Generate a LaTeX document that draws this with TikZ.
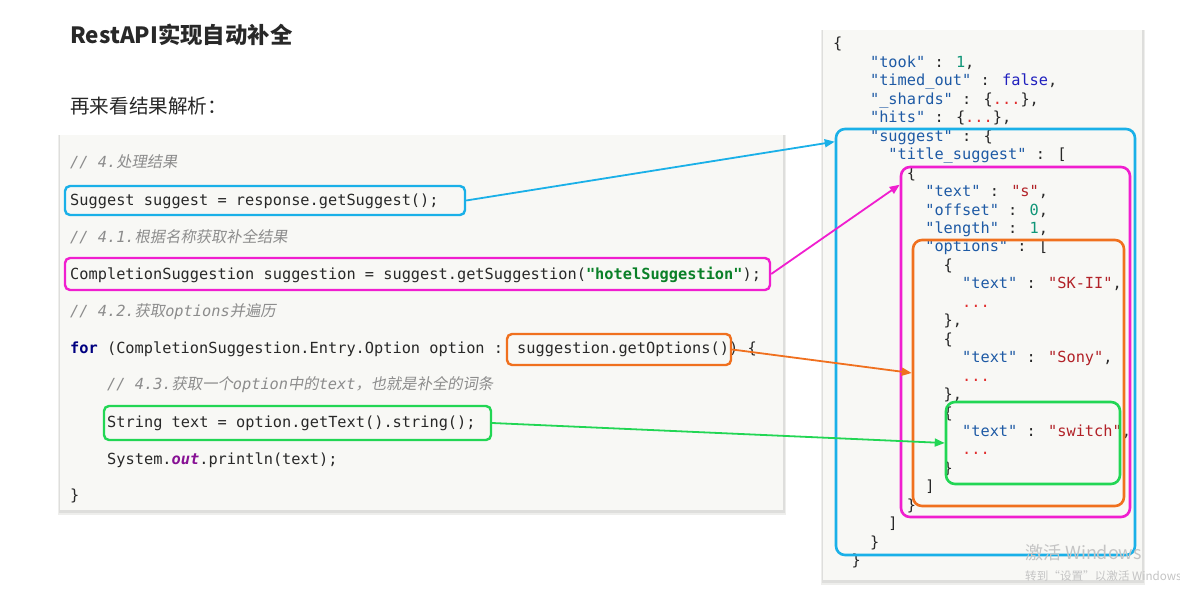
\documentclass[tikz,border=0pt]{standalone}
\usepackage{fontspec}
\usetikzlibrary{arrows.meta,calc}
\newfontfamily\cjk{Noto Sans CJK SC}
\newfontfamily\cjkit[FakeSlant=0.18]{Noto Sans CJK SC}
\newfontfamily\mono{DejaVu Sans Mono}
\definecolor{cyanc}{RGB}{26,176,232}
\definecolor{magc}{RGB}{240,30,207}
\definecolor{orgc}{RGB}{240,112,30}
\definecolor{grnc}{RGB}{34,214,84}
\definecolor{panelc}{RGB}{248,248,245}
\definecolor{shadowc}{RGB}{222,222,220}
\definecolor{shadowd}{RGB}{238,238,236}
\definecolor{codetxt}{RGB}{40,40,40}
\definecolor{cmtc}{RGB}{140,140,140}
\definecolor{kwc}{RGB}{0,0,128}
\definecolor{strgc}{RGB}{10,128,40}
\definecolor{outc}{RGB}{135,16,148}
\definecolor{jkeyc}{RGB}{30,90,165}
\definecolor{jstrc}{RGB}{178,34,40}
\definecolor{jnumc}{RGB}{16,150,120}
\definecolor{jboolc}{RGB}{32,32,190}
\definecolor{jdotc}{RGB}{225,45,45}
\definecolor{jpunc}{RGB}{40,40,40}
\definecolor{wmc}{RGB}{196,196,196}
\newcommand\zhc[1]{{\upshape\cjkit #1}}
\newcommand\jcmt[1]{\textcolor{cmtc}{\itshape #1}}
\newcommand\jkey[1]{\textcolor{jkeyc}{"#1"}}
\newcommand\jstr[1]{\textcolor{jstrc}{"#1"}}
\newcommand\jnum[1]{\textcolor{jnumc}{#1}}
\newcommand\jdots{\textcolor{jdotc}{...}}
\newcommand\jsonline[3]{\node[jline] (jl#1) at ({833+#2*9.21},{45+18.45*#1}) {#3};}
\begin{document}
\begin{tikzpicture}[x=1pt,y=-1pt,
  code/.style={anchor=west, inner sep=0pt, text height=11pt, text depth=3pt,
    font=\mono\fontsize{15.3}{18}\selectfont, text=codetxt},
  jline/.style={anchor=west, inner sep=0pt, text height=11pt, text depth=3pt,
    font=\mono\fontsize{15.3}{18}\selectfont, text=jpunc},
  cbox/.style={draw=#1, line width=2.4pt, rounded corners=5pt, inner sep=0pt},
  jbox/.style={draw=#1, line width=2.6pt, rounded corners=9pt, inner sep=0pt},
  arr/.style={draw=#1, line width=1.8pt, -{Triangle[length=10pt,width=8pt]}},
  wm/.style={anchor=west, inner sep=0pt, text=wmc}]
\useasboundingbox (0,0) rectangle (1180,591);
\clip (0,0) rectangle (1180,591);
\fill[white] (0,0) rectangle (1180,591);
% panels
\fill[shadowd] (58,135) rectangle (786,515);
\fill[shadowc] (59,135) rectangle (785,513);
\fill[panelc] (60,135) rectangle (783,510);
\fill[shadowd] (821,30) rectangle (1145,585);
\fill[shadowc] (822,30) rectangle (1144,583);
\fill[panelc] (823,30) rectangle (1142,580);
% titles
\node[anchor=west, inner sep=0pt, text=codetxt, font=\cjk\bfseries\fontsize{22.4}{25}\selectfont] (title) at (70,35) {RestAPI实现自动补全};
\node[anchor=west, inner sep=0pt, text=codetxt, font=\cjk\fontsize{19.6}{23}\selectfont] (sub) at (70,106) {再来看结果解析：};
% code
\node[code] (c1) at (70,163) {\jcmt{// 4.\zhc{处理结果}}};
\node[code] (c2) at (70,201) {Suggest suggest = response.getSuggest();};
\node[code] (c3) at (70,238) {\jcmt{// 4.1.\zhc{根据名称获取补全结果}}};
\node[code] (c4) at (70,275) {CompletionSuggestion suggestion = suggest.getSuggestion(\textcolor{strgc}{\bfseries "hotelSuggestion"});};
\node[code] (c5) at (70,312) {\jcmt{// 4.2.\zhc{获取}options\zhc{并遍历}}};
\node[code] (c6a) at (70,349) {\textcolor{kwc}{\bfseries for} (CompletionSuggestion.Entry.Option option :};
\node[code] (c6b) at (517,349) {suggestion.getOptions()};
\node[code] (c6c) at (729,349) {) \{};
\node[code] (c7) at (107,385) {\jcmt{// 4.3.\zhc{获取一个}option\zhc{中的}text\zhc{，也就是补全的词条}}};
\node[code] (c8) at (107,423) {String text = option.getText().string();};
\node[code] (c9) at (107,460) {System.\textcolor{outc}{\bfseries\itshape out}.println(text);};
\node[code] (c10) at (70,496) {\}};
% json
\jsonline{0}{0}{\{}
\jsonline{1}{4}{\jkey{took} : \jnum{1},}
\jsonline{2}{4}{\jkey{timed\_out} : \textcolor{jboolc}{false},}
\jsonline{3}{4}{\jkey{\_shards} : \{\jdots\},}
\jsonline{4}{4}{\jkey{hits} : \{\jdots\},}
\jsonline{5}{4}{\jkey{suggest} : \{}
\jsonline{6}{6}{\jkey{title\_suggest} : [}
\jsonline{7}{8}{\{}
\jsonline{8}{10}{\jkey{text} : \jstr{s},}
\jsonline{9}{10}{\jkey{offset} : \jnum{0},}
\jsonline{10}{10}{\jkey{length} : \jnum{1},}
\jsonline{11}{10}{\jkey{options} : [}
\jsonline{12}{12}{\{}
\jsonline{13}{14}{\jkey{text} : \jstr{SK-II},}
\jsonline{14}{14}{\jdots}
\jsonline{15}{12}{\},}
\jsonline{16}{12}{\{}
\jsonline{17}{14}{\jkey{text} : \jstr{Sony},}
\jsonline{18}{14}{\jdots}
\jsonline{19}{12}{\},}
\jsonline{20}{12}{\{}
\jsonline{21}{14}{\jkey{text} : \jstr{switch},}
\jsonline{22}{14}{\jdots}
\jsonline{23}{12}{\}}
\jsonline{24}{10}{]}
\jsonline{25}{8}{\}}
\jsonline{26}{6}{]}
\jsonline{27}{4}{\}}
\jsonline{28}{2}{\}}
% code boxes
\node[cbox=cyanc, minimum width=400pt, minimum height=29pt] (b1) at (265,200.5) {};
\node[cbox=magc, minimum width=705pt, minimum height=32pt] (b2) at (417.5,274) {};
\node[cbox=orgc, minimum width=224pt, minimum height=31pt] (b3) at (619,349.5) {};
\node[cbox=grnc, minimum width=387pt, minimum height=34pt] (b4) at (297.5,423) {};
% json boxes
\node[jbox=cyanc, minimum width=299pt, minimum height=426pt] (j1) at (985.5,342) {};
\node[jbox=magc, minimum width=229pt, minimum height=350pt] (j2) at (1015.5,342) {};
\node[jbox=orgc, minimum width=211pt, minimum height=266pt] (j3) at (1018.5,373) {};
\node[jbox=grnc, minimum width=174pt, minimum height=82pt] (j4) at (1033,443) {};
% arrows
\draw[arr=cyanc] (b1.east) -- ($(j1.north west)+(0,14)$);
\draw[arr=magc] (b2.east) -- ($(j2.north west)+(0,19)$);
\draw[arr=orgc] (b3.east) -- (j3.west);
\draw[arr=grnc] (b4.east) -- (j4.west);
% watermark
\node[wm, font=\cjk\fontsize{18}{20}\selectfont] (w1) at (1025,553) {激活 Windows};
\node[wm, font=\cjk\fontsize{11.6}{14}\selectfont] (w2) at (1025,576) {转到“设置”以激活 Windows};
\end{tikzpicture}
\end{document}
